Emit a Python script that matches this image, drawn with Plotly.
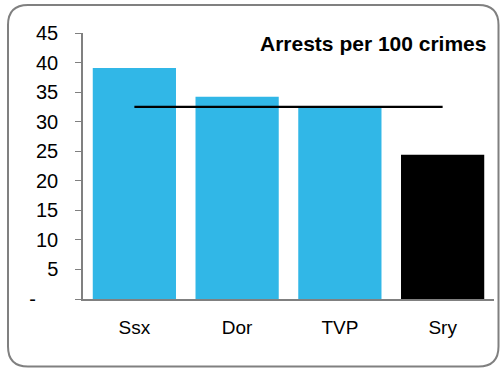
import plotly.graph_objects as go

categories = ["Ssx", "Dor", "TVP", "Sry"]
arrests = [39.1, 34.2, 32.4, 24.4]
bar_colors = ["#31b7e7", "#31b7e7", "#31b7e7", "#000000"]
average = [32.5, 32.5, 32.5, 32.5]
ytick_vals = [0, 5, 10, 15, 20, 25, 30, 35, 40, 45]
ytick_text = ["-\u00a0\u00a0\u00a0\u00a0", "5", "10", "15", "20", "25", "30", "35", "40", "45"]
title_text = "Arrests per 100 crimes"

W, H = 500, 368
L, R, T, B = 83, 6, 33, 69

fig = go.Figure()
fig.add_trace(go.Bar(x=categories, y=arrests, marker=dict(color=bar_colors, line=dict(width=0)),
                     hoverinfo="skip"))
fig.add_trace(go.Scatter(x=categories, y=average, mode="lines",
                         line=dict(color="#000000", width=2.3), hoverinfo="skip"))

pw, ph = W - L - R, H - T - B
def px(x): return (x - L) / pw
def py(y): return (H - B - y) / ph

x0, x1, y0, y1, r = 8, 498.5, 5, 366.5, 20
path = (f"M {px(x0+r)},{py(y0)} L {px(x1-r)},{py(y0)} "
        f"Q {px(x1)},{py(y0)} {px(x1)},{py(y0+r)} L {px(x1)},{py(y1-r)} "
        f"Q {px(x1)},{py(y1)} {px(x1-r)},{py(y1)} L {px(x0+r)},{py(y1)} "
        f"Q {px(x0)},{py(y1)} {px(x0)},{py(y1-r)} L {px(x0)},{py(y0+r)} "
        f"Q {px(x0)},{py(y0)} {px(x0+r)},{py(y0)} Z")

fig.update_layout(
    width=W, height=H,
    margin=dict(l=L, r=R, t=T, b=B, pad=0),
    paper_bgcolor="white", plot_bgcolor="white",
    showlegend=False, bargap=0.19,
    font=dict(family="Liberation Sans, Arial, sans-serif", color="#000000"),
    xaxis=dict(showline=True, linecolor="#808080", linewidth=1.5, ticks="",
               tickfont=dict(size=19), ticklabelstandoff=10, showgrid=False,
               zeroline=False, range=[-0.5, 3.5]),
    yaxis=dict(range=[0, 45], tickvals=ytick_vals, ticktext=ytick_text,
               showline=True, linecolor="#808080", linewidth=1.5,
               ticks="outside", ticklen=6, tickcolor="#808080",
               tickfont=dict(size=20), showgrid=False, zeroline=False,
               ticklabelstandoff=13),
    shapes=[dict(type="path", path=path, xref="paper", yref="paper",
                 line=dict(color="#808080", width=2), fillcolor="rgba(0,0,0,0)",
                 layer="above")],
    annotations=[dict(text=f"<b>{title_text}</b>", xref="paper", yref="paper",
                      x=px(488), y=py(43), xanchor="right", yanchor="middle",
                      showarrow=False, font=dict(size=21))],
)

fig.write_html("out.html", config={"displayModeBar": False},
               post_script="document.body.style.margin='0';document.body.style.overflow='hidden';")
